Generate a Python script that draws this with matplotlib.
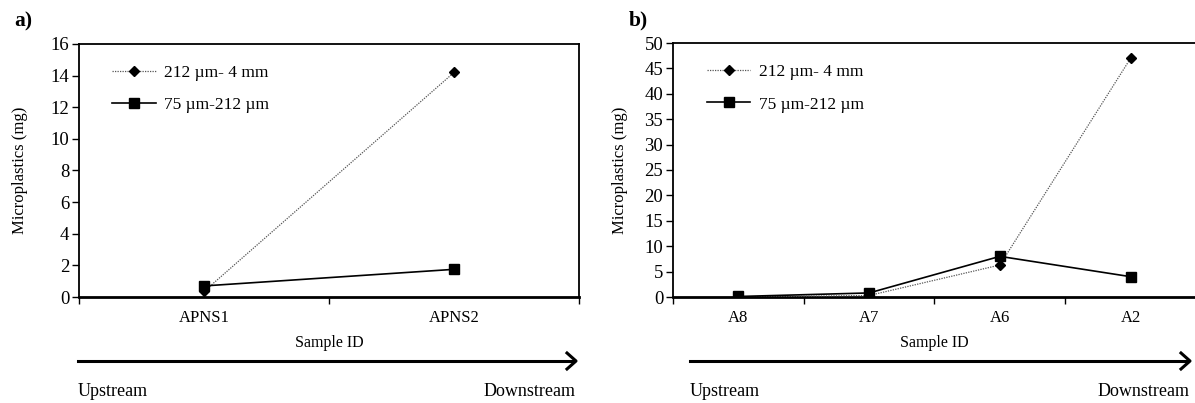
import matplotlib
matplotlib.use("Agg")
import matplotlib.pyplot as plt
from matplotlib.lines import Line2D

plt.rcParams['font.family'] = ['Liberation Serif', 'DejaVu Serif']

# Panel a) data
sites_a = ["APNS1", "APNS2"]
coarse_a = [0.35, 14.2]    # 212 µm - 4 mm
fine_a = [0.7, 1.75]       # 75 µm - 212 µm
yticks_a = [0, 2, 4, 6, 8, 10, 12, 14, 16]

# Panel b) data
sites_b = ["A8", "A7", "A6", "A2"]
coarse_b = [0.0, 0.3, 6.3, 47.0]
fine_b = [0.1, 0.8, 8.0, 4.0]
yticks_b = [0, 5, 10, 15, 20, 25, 30, 35, 40, 45, 50]

label_coarse = "212 µm- 4 mm"
label_fine = "75 µm-212 µm"

W, H = 1195, 403
fig = plt.figure(figsize=(W / 100, H / 100), dpi=100)


def px_axes(x0, y0, x1, y1):
    return fig.add_axes([x0 / W, 1 - y1 / H, (x1 - x0) / W, (y1 - y0) / H])


def draw_panel(ax, sites, coarse, fine, yticks, tag, tag_x, ylabel_pad, leg_x):
    x = list(range(len(sites)))
    ax.plot(x, coarse, linestyle=(0, (1, 1)), color="#555555", linewidth=0.9,
            marker="D", markersize=5.5, markerfacecolor="black",
            markeredgecolor="black", label=label_coarse, zorder=3)
    ax.plot(x, fine, linestyle="-", color="black", linewidth=1.2,
            marker="s", markersize=7, markerfacecolor="black",
            markeredgecolor="black", label=label_fine, zorder=4)
    ax.set_xlim(-0.5, len(sites) - 0.5)
    ax.set_ylim(yticks[0], yticks[-1])
    ax.set_yticks(yticks)
    ax.set_xticks([i + 0.5 for i in range(-1, len(sites))])
    ax.set_xticklabels([])
    ax.set_xticks(x, minor=True)
    ax.set_xticklabels(sites, minor=True, fontsize=12)
    ax.tick_params(axis="x", which="minor", length=0, pad=9)
    ax.tick_params(axis="x", which="major", direction="out", length=5, width=1)
    ax.tick_params(axis="y", direction="out", length=5, width=1, labelsize=13.5, pad=2)
    for s in ["left", "top", "right"]:
        ax.spines[s].set_linewidth(1.3)
    ax.spines["bottom"].set_linewidth(2.0)
    ax.set_ylabel("Microplastics (mg)", fontsize=12, labelpad=ylabel_pad)
    ax.set_xlabel("Sample ID", fontsize=11.5, labelpad=7)
    ax.legend(loc="upper left", bbox_to_anchor=(leg_x, 0.98), frameon=False,
              fontsize=12.5, handlelength=2.5, labelspacing=0.95, handletextpad=0.5)
    ax.text(tag_x, 1.05, tag, transform=ax.transAxes, fontsize=15.5,
            fontweight="bold", ha="left", va="bottom")


ax_a = px_axes(79, 44, 579, 297)
draw_panel(ax_a, sites_a, coarse_a, fine_a, yticks_a, "a)", -0.13, 16, 0.035)

ax_b = px_axes(673, 43, 1196, 297)
draw_panel(ax_b, sites_b, coarse_b, fine_b, yticks_b, "b)", -0.085, 12, 0.035)

# Flow direction arrows and labels
for x0, x1 in [(78, 576), (690, 1190)]:
    fig.add_artist(Line2D([x0 / W, (x1 - 2) / W], [1 - 361 / H] * 2,
                          color="black", linewidth=2.2))
    fig.add_artist(Line2D([(x1 - 9) / W, x1 / W, (x1 - 9) / W],
                          [1 - 353 / H, 1 - 361 / H, 1 - 369 / H],
                          color="black", linewidth=2.2))
    fig.text(x0 / W, 1 - 392 / H, "Upstream", fontsize=13, ha="left", va="center")
    fig.text(x1 / W, 1 - 392 / H, "Downstream", fontsize=13, ha="right", va="center")

fig.savefig("out.png", dpi=100)
